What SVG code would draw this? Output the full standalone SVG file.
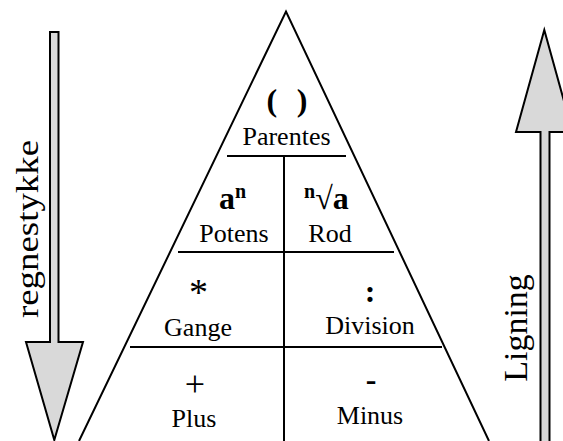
<svg xmlns="http://www.w3.org/2000/svg" width="563" height="441" viewBox="0 0 563 441">
<style>
.ln{stroke:#000;stroke-width:2;fill:none}
.arr{fill:#d9d9d9;stroke:#000;stroke-width:2;stroke-linejoin:miter}
text{font-family:"Liberation Serif","Times New Roman",serif;fill:#000}
.lbl{font-size:26px;text-anchor:middle}
.sym{font-weight:bold}
</style>
<rect width="563" height="441" fill="#fff"/>
<g id="arrow-down">
<polygon class="arr" points="50,32 58.5,32 58.5,342 83,342 54.3,440 26,342 50,342"/>
<text transform="translate(38,229) rotate(-90)" font-size="32" text-anchor="middle" textLength="178" lengthAdjust="spacingAndGlyphs">regnestykke</text>
</g>
<g id="arrow-up">
<polygon class="arr" points="540.5,445 540.5,132 516,132 544.3,30 572.6,132 549.5,132 549.5,445"/>
<text transform="translate(527,328) rotate(-90)" font-size="34" text-anchor="middle">Ligning</text>
</g>
<g id="connectors">
<polyline class="ln" points="79,441 286,11.5 489,441"/>
<line class="ln" x1="227" y1="156" x2="346" y2="156"/>
<line class="ln" x1="178" y1="252" x2="394" y2="252"/>
<line class="ln" x1="130" y1="347" x2="442" y2="347"/>
<line class="ln" x1="284" y1="156" x2="284" y2="441"/>
</g>
<g id="parentes">
<text class="sym" x="287" y="111" font-size="32" text-anchor="middle" textLength="41">( )</text>
<text class="lbl" x="286.5" y="145">Parentes</text>
</g>
<g id="potens">
<text class="sym" x="219" y="209" font-size="32">a<tspan font-size="20" y="198">n</tspan></text>
<text class="lbl" x="234" y="242">Potens</text>
</g>
<g id="rod">
<text class="sym" x="304" y="198" font-size="20">n<tspan font-size="32" y="209">√a</tspan></text>
<text class="lbl" x="330" y="242">Rod</text>
</g>
<g id="gange">
<text x="198.5" y="305" font-size="38" text-anchor="middle">*</text>
<text class="lbl" x="198" y="336">Gange</text>
</g>
<g id="division">
<text class="sym" x="370" y="302" font-size="32" text-anchor="middle">:</text>
<text class="lbl" x="370" y="334">Division</text>
</g>
<g id="plus">
<text x="195" y="396" font-size="36" text-anchor="middle">+</text>
<text class="lbl" x="194" y="427">Plus</text>
</g>
<g id="minus">
<text class="sym" x="371" y="390" font-size="32" text-anchor="middle">-</text>
<text class="lbl" x="370" y="424">Minus</text>
</g>
</svg>
